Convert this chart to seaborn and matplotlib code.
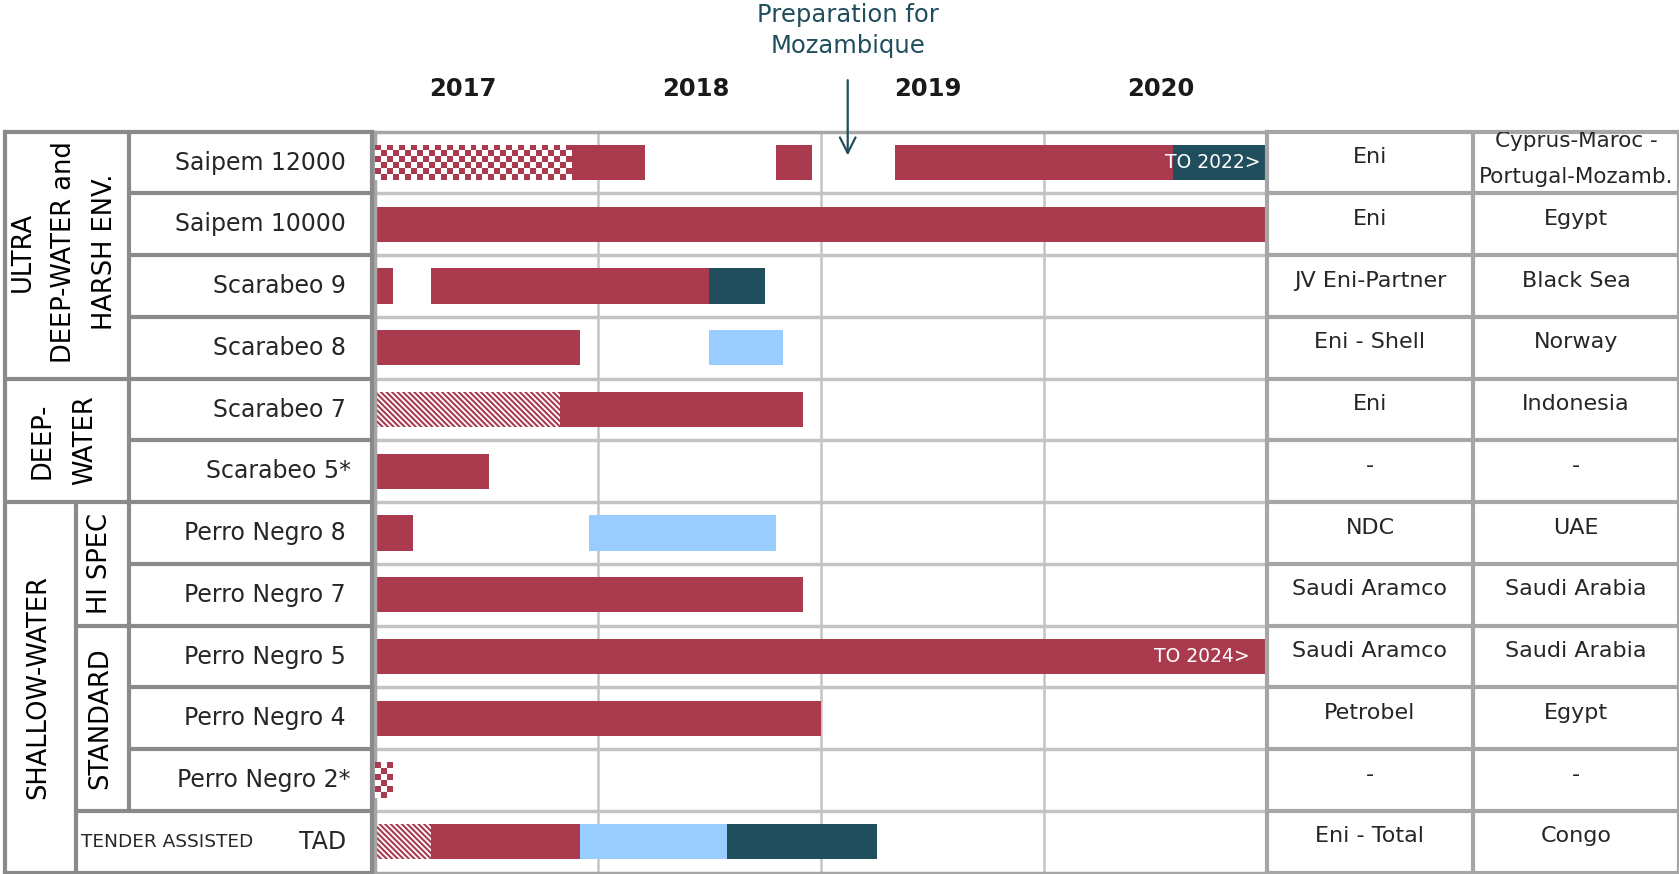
import numpy as np
import pandas as pd
import matplotlib.pyplot as plt
import seaborn as sns
from matplotlib.colors import ListedColormap

sns.set_style("white")
plt.rcParams['font.family'] = ['DejaVu Sans']
plt.rcParams['hatch.linewidth'] = 1.5

RED = '#AA3B4F'
TEAL = '#214E5D'
LBLUE = '#99CCFF'
GRID = '#c4c4c4'
FRAME = '#8a8a8a'

# table contents
rigs = ["Saipem 12000", "Saipem 10000", "Scarabeo 9", "Scarabeo 8", "Scarabeo 7", "Scarabeo 5*",
        "Perro Negro 8", "Perro Negro 7", "Perro Negro 5", "Perro Negro 4", "Perro Negro 2*", "TAD"]
clients = ["Eni", "Eni", "JV Eni-Partner", "Eni - Shell", "Eni", "-",
           "NDC", "Saudi Aramco", "Saudi Aramco", "Petrobel", "-", "Eni - Total"]
areas = ["Cyprus-Maroc -\nPortugal-Mozamb.", "Egypt", "Black Sea", "Norway", "Indonesia", "-",
         "UAE", "Saudi Arabia", "Saudi Arabia", "Egypt", "-", "Congo"]
years = [2017, 2018, 2019, 2020]

# activity segments (rig row, start year, end year, kind)
seg_rig = [0, 0, 0, 0, 0, 1, 2, 2, 2, 3, 3, 4, 4, 5, 6, 6, 7, 8, 9, 10, 11, 11, 11, 11]
seg_start = [2017.0, 2017.88, 2018.80, 2019.33, 2020.58, 2017.0, 2017.0, 2017.25, 2018.50,
             2017.0, 2018.50, 2017.0, 2017.83, 2017.0, 2017.0, 2017.96, 2017.0, 2017.0,
             2017.0, 2017.0, 2017.0, 2017.25, 2017.92, 2018.58]
seg_end = [2017.88, 2018.21, 2018.96, 2020.58, 2021.0, 2021.0, 2017.08, 2018.50, 2018.75,
           2017.92, 2018.83, 2017.83, 2018.92, 2017.51, 2017.17, 2018.80, 2018.92, 2021.0,
           2019.0, 2017.08, 2017.25, 2017.92, 2018.58, 2019.25]
seg_kind = ['check', 'firm', 'firm', 'firm', 'ext', 'firm', 'firm', 'firm', 'ext',
            'firm', 'idle', 'hatch', 'firm', 'firm', 'firm', 'idle', 'firm', 'firm',
            'firm', 'check', 'hatch', 'firm', 'idle', 'ext']

df = pd.DataFrame({'rig': seg_rig, 'start': seg_start, 'end': seg_end, 'kind': seg_kind})
colors = {'firm': RED, 'ext': TEAL, 'idle': LBLUE}

fig = plt.figure(figsize=(16.79, 8.74), dpi=100)
bottom, height = 0.0015, 0.8478
ax = fig.add_axes([0.2233, bottom, 0.5313, height])
axl = fig.add_axes([0.0032, bottom, 0.2181, height])
axr = fig.add_axes([0.7546, bottom, 0.2454, height])

H = 0.57
n = len(rigs)

# gantt
for r in df.itertuples():
    w = r.end - r.start
    if r.kind in colors:
        ax.barh(r.rig, w, left=r.start, height=H, color=colors[r.kind], lw=0, zorder=2)
    elif r.kind == 'hatch':
        ax.barh(r.rig, w, left=r.start, height=H, color='white', edgecolor=RED,
                hatch='\\' * 6, lw=0, zorder=2)
    else:
        bar = ax.barh(r.rig, w, left=r.start, height=H, color='white', lw=0, zorder=2)[0]
        ncol = max(2, int(round(w * 223 / 6)))
        board = np.indices((6, ncol)).sum(axis=0) % 2
        im = ax.imshow(board, cmap=ListedColormap([RED, 'white']),
                       extent=(r.start, r.end, r.rig + H / 2, r.rig - H / 2),
                       aspect='auto', interpolation='nearest', zorder=3)
        im.set_clip_path(bar)

ax.set_xlim(2017, 2021)
ax.set_ylim(n - 0.5, -0.5)
ax.set_xticks([])
ax.set_yticks([])
for k in range(1, n):
    ax.axhline(k - 0.5, color=GRID, lw=2.5, zorder=1)
for yr in years[1:]:
    ax.axvline(yr, color=GRID, lw=1.8, zorder=1)
for s in ax.spines.values():
    s.set_color('#a6a6a6')
    s.set_linewidth(2.5)

ax.text(2020.97, 0, "TO 2022>", color='white', fontsize=13.5, ha='right', va='center', zorder=4)
ax.text(2020.92, 8, "TO 2024>", color='white', fontsize=13.5, ha='right', va='center', zorder=4)

# year headers
for yr, off in zip(years, [0.393, 0.439, 0.48, 0.525]):
    ax.text(yr + off, -1.19, str(yr), fontsize=17.5, fontweight='bold', color='#1a1a1a',
            ha='center', va='center', clip_on=False)

ax.text(2019.12, -2.14, "Preparation for\nMozambique", color=TEAL, fontsize=17.5,
        fontweight='medium', ha='center', va='center', linespacing=1.35, clip_on=False)
ax.annotate('', xy=(2019.12, -0.07), xytext=(2019.12, -1.38),
            arrowprops=dict(arrowstyle='->', color=TEAL, lw=1.6, mutation_scale=28),
            annotation_clip=False, zorder=5)

# left table (x in pixels)
X0, X1, X2, X3 = 5.4, 76, 128.6, 371.6
axl.set_xlim(X0, X3)
axl.set_ylim(n - 0.5, -0.5)
axl.set_xticks([])
axl.set_yticks([])
for s in axl.spines.values():
    s.set_color(FRAME)
    s.set_linewidth(3)
lk = dict(color=FRAME, lw=3)
axl.hlines([3.5, 5.5], X0, X3, **lk)
axl.hlines([7.5, 10.5], X1, X3, **lk)
axl.hlines([0.5, 1.5, 2.5, 4.5, 6.5, 8.5, 9.5], X2, X3, **lk)
axl.vlines(X2, -0.5, 10.5, **lk)
axl.vlines(X1, 5.5, n - 0.5, **lk)

gk = dict(rotation=90, ha='center', va='center', fontsize=18.5, color='black')
axl.text(64, 1.45, "ULTRA\nDEEP-WATER and\nHARSH ENV.", linespacing=1.75, **gk)
axl.text(64, 4.5, "DEEP-\nWATER", linespacing=1.8, **gk)
axl.text(38, 8.5, "SHALLOW-WATER", **gk)
axl.text(100, 6.5, "HI SPEC", **gk)
axl.text(100, 9.0, "STANDARD", **gk)
axl.text(81, 11, "TENDER ASSISTED", fontsize=13.3, ha='left', va='center')
for i, name in enumerate(rigs):
    axl.text(346 + (5 if name.endswith('*') else 0), i, name, fontsize=17,
             ha='right', va='center')

# right table
axr.set_xlim(0, 2)
axr.set_ylim(n - 0.5, -0.5)
axr.set_xticks([])
axr.set_yticks([])
for s in axr.spines.values():
    s.set_color('#a6a6a6')
    s.set_linewidth(3)
axr.hlines(np.arange(1, n) - 0.5, 0, 2, color='#a6a6a6', lw=3)
axr.vlines(1, -0.5, n - 0.5, color='#a6a6a6', lw=3)
for i, (c, a) in enumerate(zip(clients, areas)):
    axr.text(0.5, i - 0.09, c, fontsize=16, ha='center', va='center')
    if '\n' in a:
        axr.text(1.5, i - 0.06, a, fontsize=15.5, ha='center', va='center',
                 linespacing=2.0, clip_on=True)
    else:
        axr.text(1.5, i - 0.09, a, fontsize=16, ha='center', va='center')

fig.savefig('out.png', dpi=100)
